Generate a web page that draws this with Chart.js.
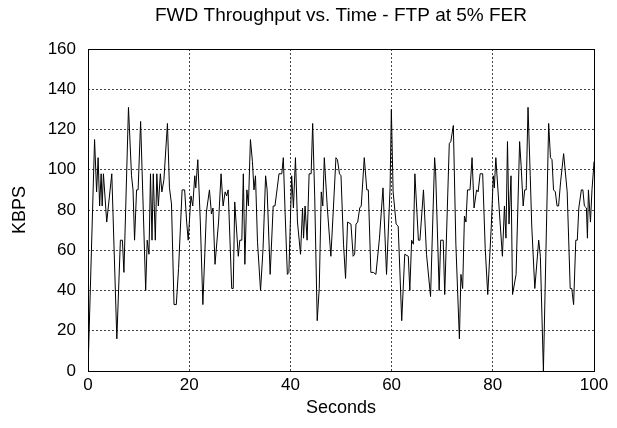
<!DOCTYPE html>
<html>
<head>
<meta charset="utf-8">
<script src="https://cdn.jsdelivr.net/npm/chart.js@4.4.0/dist/chart.umd.min.js"></script>
<style>
  html, body { margin: 0; padding: 0; background: #fff; }
  #wrap { width: 617px; height: 428px; }
</style>
</head>
<body>
<div id="wrap"><canvas id="myChart"></canvas></div>
<script>
// FWD throughput samples
var seconds = [0, 1.3, 1.7, 2.0, 2.3, 2.6, 2.8, 3.05, 3.7, 4.7, 5.7, 6.4, 6.8, 7.1, 8.0, 8.6, 8.9, 9.2, 9.6, 9.9,
  10.4, 11.4, 11.7, 12.05, 12.35, 12.65, 12.9, 13.3, 13.6, 13.9, 14.3, 14.6, 15.0, 15.7, 16.1, 16.5, 17.0, 17.45, 17.9, 18.6,
  19.1, 19.5, 19.8, 20.35, 20.7, 21.1, 21.3, 21.7, 22.2, 22.7, 23.4, 24.0, 24.4, 24.7, 25.1, 25.8, 26.3, 26.7, 27.1, 27.4,
  27.7, 28.4, 28.7, 29.0, 29.7, 30.0, 30.4, 30.7, 31.0, 31.4, 31.7, 32.1, 32.5, 32.8, 33.1, 33.5, 34.1, 34.6, 35.1, 35.4,
  36.0, 36.6, 36.95, 37.4, 37.75, 38.3, 38.6, 38.95, 39.4, 39.7, 40.25, 40.6, 41.0, 41.4, 42.0, 42.4, 42.6, 42.9, 43.3, 43.7,
  44.1, 44.4, 44.8, 45.3, 45.7, 46.1, 46.4, 46.7, 47.3, 48.0, 48.5, 49.0, 49.3, 49.7, 50.0, 50.5, 50.9, 51.3, 51.97, 52.4,
  52.7, 52.96, 53.3, 53.7, 54.0, 54.6, 55.1, 55.4, 55.9, 56.4, 56.9, 57.6, 58.3, 59.0, 59.7, 59.95, 60.3, 60.9, 61.3, 62.0,
  62.6, 63.3, 63.6, 63.96, 64.3, 64.6, 65.3, 65.6, 66.3, 66.9, 67.7, 68.5, 68.7, 69.4, 69.7, 70.2, 70.5, 71.4, 71.7, 72.2,
  72.7, 73.4, 73.7, 74.04, 74.4, 74.7, 75.0, 75.5, 75.9, 76.3, 76.8, 77.1, 77.5, 78.0, 78.5, 79.0, 79.7, 80.1, 80.3, 80.6,
  81.3, 81.9, 82.3, 82.6, 82.9, 83.2, 83.6, 83.9, 84.6, 85.3, 85.6, 86.0, 86.3, 86.6, 86.96, 87.4, 87.7, 88.3, 89.07, 89.4,
  90.0, 90.6, 91.04, 91.4, 91.7, 92.0, 92.36, 92.7, 93.0, 93.4, 94.0, 94.7, 95.3, 95.6, 95.97, 96.4, 96.7, 97.0, 97.5, 97.8,
  98.1, 98.5, 98.7, 98.9, 99.3, 99.6, 99.9, 100];
var kbps = [0, 115, 89, 106, 82, 98, 82, 98, 74, 98, 16, 65, 65, 49, 131, 97, 90, 65, 90, 90,
  124, 40, 65, 58, 98, 65, 98, 65, 98, 82, 98, 89, 95, 123, 91, 83, 33, 33, 51, 90,
  90, 74, 65, 87, 82, 97, 91, 105, 74, 33, 79, 90, 78, 81, 53, 74, 98, 82, 89, 87,
  90, 41, 41, 84, 57, 65, 65, 98, 53, 90, 82, 115, 104, 90, 97, 64, 40, 61, 97, 90,
  48, 82, 82, 91, 98, 98, 106, 79, 48, 49, 97, 81, 106, 74, 58, 81, 66, 82, 65, 98,
  98, 123, 87, 25, 41, 89, 82, 106, 81, 57, 81, 106, 105, 98, 97, 63, 46, 74, 73, 57,
  58, 73, 74, 81, 82, 106, 90, 90, 49, 49, 48, 66, 91, 48, 91, 130, 89, 73, 72, 25,
  58, 57, 40, 65, 63, 98, 65, 65, 90, 58, 37, 106, 99, 40, 65, 65, 38, 113, 114, 122,
  63, 16, 48, 41, 77, 74, 90, 90, 106, 81, 90, 89, 98, 98, 61, 38, 72, 97, 91, 106,
  79, 57, 82, 66, 114, 73, 97, 38, 48, 114, 102, 82, 90, 90, 131, 97, 72, 41, 65, 57,
  0, 71, 123, 106, 105, 90, 89, 82, 82, 94, 108, 89, 41, 41, 33, 65, 65, 81, 90, 90,
  82, 81, 66, 90, 74, 90, 100, 104];

var chartTitle = 'FWD Throughput vs. Time - FTP at 5% FER';
var xLabel = 'Seconds';
var yLabel = 'KBPS';

var xMin = 0, xMax = 100, yMin = 0, yMax = 160;

var points = seconds.map(function (s, i) { return { x: s, y: kbps[i] }; });

var font = 'Liberation Sans, Arial, Helvetica, sans-serif';

// no dotted grid line on top of the frame edges
function gridColor(lo, hi) {
  return function (c) {
    if (!c.tick) return '#444';
    return (c.tick.value === lo || c.tick.value === hi) ? 'rgba(0,0,0,0)' : '#444';
  };
}

// solid frame round the plot, like gnuplot's border
var framePlugin = {
  id: 'frame',
  afterDraw: function (chart) {
    var a = chart.chartArea;
    var ctx = chart.ctx;
    ctx.save();
    ctx.strokeStyle = '#000';
    ctx.lineWidth = 1;
    ctx.strokeRect(Math.round(a.left) + 0.5, Math.round(a.top) + 0.5,
      Math.round(a.right - a.left), Math.round(a.bottom - a.top));
    ctx.restore();
  }
};

var ctx = document.getElementById('myChart');
var myChart = new Chart(ctx, {
  type: 'line',
  data: {
    datasets: [{
      label: 'throughput',
      data: points,
      borderColor: '#000',
      borderWidth: 1,
      pointRadius: 0,
      fill: false,
      tension: 0
    }]
  },
  options: {
    responsive: true,
    maintainAspectRatio: false,
    animation: false,
    layout: { padding: { left: 0, right: 23, top: 0, bottom: 0 } },
    plugins: {
      legend: { display: false },
      tooltip: { enabled: false },
      title: {
        display: true,
        text: chartTitle,
        fullSize: false,
        color: '#000',
        font: { family: font, size: 19, weight: 'normal' },
        padding: { top: 4, bottom: 22.2 }
      }
    },
    scales: {
      x: {
        type: 'linear',
        min: xMin,
        max: xMax,
        ticks: { stepSize: 20, color: '#000', padding: 4, font: { family: font, size: 17 } },
        grid: { color: gridColor(xMin, xMax), lineWidth: 1, drawTicks: false },
        border: { display: false, dash: [2, 2] },
        title: { display: true, text: xLabel, color: '#000', font: { family: font, size: 18 }, padding: { top: 0, bottom: 9 } },
        afterFit: function (s) { s.height = 57; }
      },
      y: {
        min: yMin,
        max: yMax,
        ticks: { stepSize: 20, color: '#000', padding: 12, font: { family: font, size: 17 } },
        grid: { color: gridColor(yMin, yMax), lineWidth: 1, drawTicks: false },
        border: { display: false, dash: [2, 2] },
        title: { display: true, text: yLabel, color: '#000', font: { family: font, size: 18 }, padding: { top: 9, bottom: 0 } },
        afterFit: function (s) { s.width = 88; }
      }
    }
  },
  plugins: [framePlugin]
});
</script>
</body>
</html>
